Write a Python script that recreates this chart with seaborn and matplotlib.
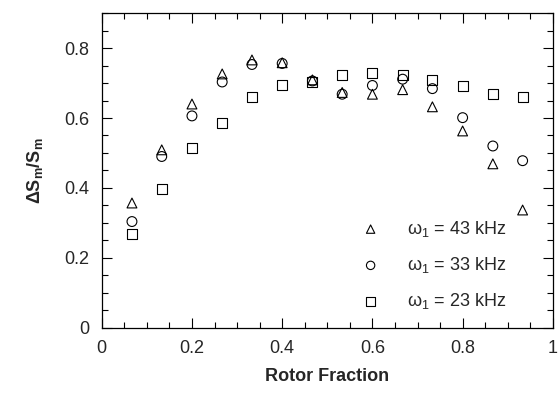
import matplotlib
matplotlib.use("Agg")
import matplotlib.pyplot as plt
from matplotlib.ticker import MultipleLocator, FixedLocator
import seaborn as sns
import pandas as pd

# Rotor fraction sampled at each point
rotor_fraction = [0.067, 0.133, 0.200, 0.267, 0.333, 0.400, 0.467,
                  0.533, 0.600, 0.667, 0.733, 0.800, 0.867, 0.933]

# Relative signal change for each RF field strength
ds_43khz = [0.357, 0.509, 0.640, 0.726, 0.766, 0.758, 0.709,
            0.673, 0.668, 0.681, 0.632, 0.563, 0.469, 0.337]
ds_33khz = [0.304, 0.490, 0.606, 0.703, 0.753, 0.756, 0.706,
            0.668, 0.693, 0.711, 0.684, 0.601, 0.520, 0.478]
ds_23khz = [0.268, 0.397, 0.514, 0.585, 0.659, 0.694, 0.703,
            0.723, 0.729, 0.723, 0.709, 0.691, 0.668, 0.659]

series_labels = ["ω$_1$ = 43 kHz", "ω$_1$ = 33 kHz", "ω$_1$ = 23 kHz"]
series_markers = ["^", "o", "s"]

x_ticks = [0, 0.2, 0.4, 0.6, 0.8, 1]
x_tick_labels = ["0", "0.2", "0.4", "0.6", "0.8", "1"]
y_ticks = [0, 0.2, 0.4, 0.6, 0.8]
y_tick_labels = ["0", "0.2", "0.4", "0.6", "0.8"]

sns.set_theme(style="ticks")
plt.rcParams["font.family"] = ["Liberation Sans", "DejaVu Sans"]
plt.rcParams["mathtext.fontset"] = "custom"
plt.rcParams["mathtext.rm"] = "Liberation Sans"
plt.rcParams["mathtext.it"] = "Liberation Sans:italic"
plt.rcParams["mathtext.bf"] = "Liberation Sans:bold"

frames = []
for label, values in zip(series_labels, [ds_43khz, ds_33khz, ds_23khz]):
    frames.append(pd.DataFrame({"fraction": rotor_fraction,
                                "ds": values,
                                "series": label}))
df = pd.concat(frames, ignore_index=True)

fig = plt.figure(figsize=(5.59, 3.96), dpi=100)
ax = fig.add_axes([0.182, 0.172, 0.807, 0.795])

for label, marker in zip(series_labels, series_markers):
    sub = df[df["series"] == label]
    sns.scatterplot(data=sub, x="fraction", y="ds", ax=ax, marker=marker,
                    s=50, facecolor="none", edgecolor="black",
                    linewidth=0.8, label=label)

ax.set_xlim(0, 1)
ax.set_ylim(0, 0.9)
ax.xaxis.set_major_locator(FixedLocator(x_ticks))
ax.set_xticklabels(x_tick_labels)
ax.yaxis.set_major_locator(FixedLocator(y_ticks))
ax.set_yticklabels(y_tick_labels)
ax.xaxis.set_minor_locator(MultipleLocator(0.05))
ax.yaxis.set_minor_locator(MultipleLocator(0.05))
ax.tick_params(which="both", direction="in", top=True, right=True,
               color="black", width=0.8)
ax.tick_params(which="major", length=7, labelsize=13, pad=9)
ax.tick_params(which="minor", length=4)
for spine in ax.spines.values():
    spine.set_linewidth(0.9)
    spine.set_color("black")

ax.set_xlabel("Rotor Fraction", fontsize=13, fontweight="bold", labelpad=8)
ax.set_ylabel(r"ΔS$_\mathbf{m}$/S$_\mathbf{m}$", fontsize=13,
              fontweight="bold", labelpad=14)

leg = ax.legend(loc="upper left", bbox_to_anchor=(0.536, 0.375),
                frameon=False, fontsize=13, handletextpad=1.0,
                labelspacing=0.9, markerscale=0.85, borderpad=0)

fig.savefig("out.png", dpi=100)
